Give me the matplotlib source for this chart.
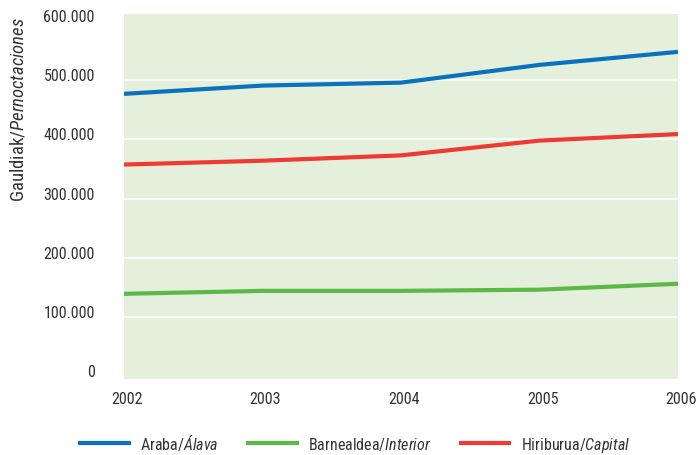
import matplotlib
matplotlib.use("Agg")
import matplotlib.pyplot as plt
import matplotlib.transforms as mtransforms
from matplotlib import font_manager as fm
from matplotlib.ticker import FuncFormatter

# data
years = [2002, 2003, 2004, 2005, 2006]
araba = [477000, 491000, 496000, 526000, 548000]
barnealdea = [139000, 144000, 144000, 146000, 156000]
hiriburua = [357500, 364000, 373000, 398000, 409000]
yticks = [0, 100000, 200000, 300000, 400000, 500000, 600000]
series_labels = ["Araba/$\\mathit{Álava}$",
                 "Barnealdea/$\\mathit{Interior}$",
                 "Hiriburua/$\\mathit{Capital}$"]

# the reference uses a condensed sans; take one if the machine has it
names = {f.name for f in fm.fontManager.ttflist}
FONT = "DejaVu Sans"
for cand in ["Liberation Sans Narrow", "Roboto Condensed", "Open Sans Condensed"]:
    if cand in names:
        FONT = cand
        break
plt.rcParams["font.family"] = [FONT, "DejaVu Sans"]
plt.rcParams["font.stretch"] = "condensed"
plt.rcParams["mathtext.fontset"] = "custom"
plt.rcParams["mathtext.rm"] = FONT + ":stretch=condensed"
plt.rcParams["mathtext.it"] = FONT + ":italic:stretch=condensed"
plt.rcParams["text.color"] = "#333333"
plt.rcParams["xtick.color"] = "#333333"
plt.rcParams["ytick.color"] = "#333333"

fig = plt.figure(figsize=(6.96, 4.56), dpi=100)
ax = fig.add_axes([124 / 696, 1 - 380 / 456, 554 / 696, 365 / 456])
ax.set_facecolor("#e4efdc")
for s in ax.spines.values():
    s.set_visible(False)

ax.set_xlim(years[0], years[-1])
ax.set_ylim(-5000, 612000)

for y in yticks[1:-1]:
    ax.axhline(y, color="white", lw=1.2, zorder=1)

colors = ["#0a72bd", "#5cb946", "#ee3a33"]
for vals, c, lab in zip([araba, barnealdea, hiriburua], colors, series_labels):
    ax.plot(years, vals, color=c, lw=3, label=lab, zorder=3, solid_capstyle="butt")

ax.set_yticks(yticks)
ax.yaxis.set_major_formatter(FuncFormatter(lambda v, p: "0" if v == 0 else f"{int(v):,}".replace(",", ".")))
ax.tick_params(axis="y", length=0, pad=21, labelsize=11.5)
dy = mtransforms.ScaledTranslation(0, 6 / 100, fig.dpi_scale_trans)
for lbl in ax.get_yticklabels():
    lbl.set_transform(lbl.get_transform() + dy)

ax.set_xticks(years)
ax.tick_params(axis="x", which="major", length=0, pad=9, labelsize=11.5)
dx = mtransforms.ScaledTranslation(3 / 100, 0, fig.dpi_scale_trans)
for lbl in ax.get_xticklabels():
    lbl.set_transform(lbl.get_transform() + dx)
ax.set_xticks(years[1:-1], minor=True)
ax.tick_params(axis="x", which="minor", direction="in", length=11.5, width=1.5,
               color="white", labelbottom=False)

fig.text(18 / 696, 1 - 110 / 456, "Gauldiak/$\\mathit{Pernoctaciones}$",
         rotation=90, ha="center", va="center", fontsize=13.5)

fig.legend(loc="center", bbox_to_anchor=(354 / 696, 1 - 444 / 456), ncol=3,
           frameon=False, fontsize=11.5, handlelength=3.3, handletextpad=0.6,
           columnspacing=1.7, borderpad=0.2)

fig.savefig("out.png", dpi=100)
